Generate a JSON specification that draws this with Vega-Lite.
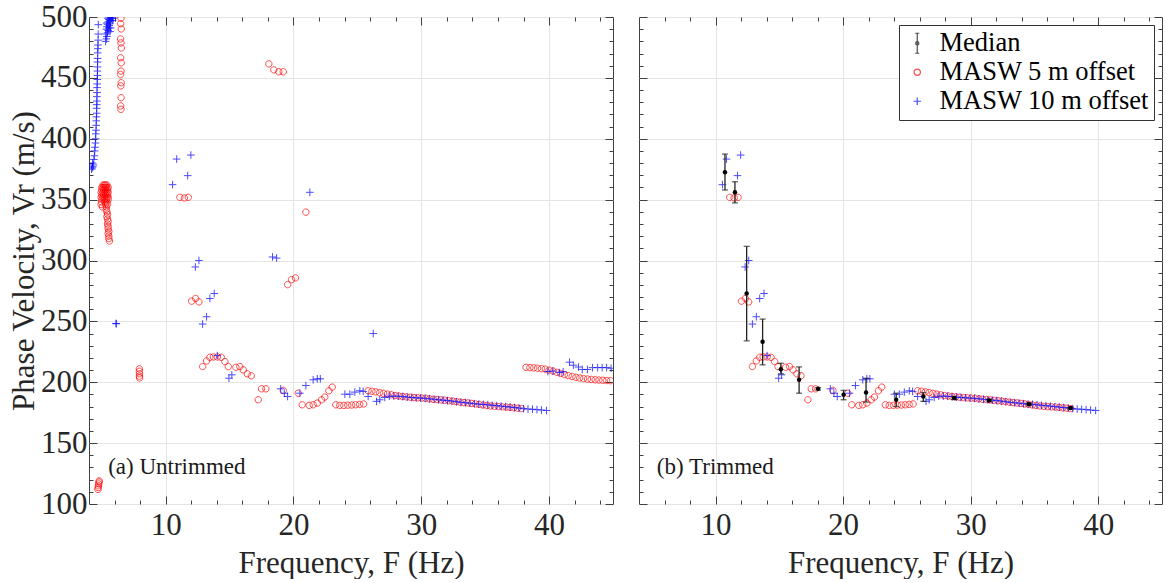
{
  "$schema": "https://vega.github.io/schema/vega-lite/v6.json",
  "background": "white",
  "padding": {"left": 8, "top": 0, "right": 1, "bottom": 0},
  "spacing": 26,
  "bounds": "flush",
  "config": {
    "font": "Liberation Serif, Times New Roman, serif",
    "view": {"stroke": "#404040", "strokeWidth": 1},
    "axis": {"domain": false, "tickColor": "#404040", "tickWidth": 1, "gridColor": "#e4e4e4", "gridWidth": 1, "labelFont": "Liberation Serif, Times New Roman, serif", "labelFontSize": 31, "labelColor": "#262626", "titleFont": "Liberation Serif, Times New Roman, serif", "titleFontSize": 31, "titleFontWeight": "normal", "titleColor": "#262626", "labelFlush": false}
  },
  "resolve": {"scale": {"stroke": "independent", "shape": "independent"}, "legend": {"stroke": "independent", "shape": "independent"}},
  "datasets": {
    "red": [
      {"f":4.70,"v":112,"k":0},{"f":4.72,"v":113.5,"k":0},{"f":4.74,"v":115,"k":0},{"f":4.76,"v":116.5,"k":0},{"f":4.78,"v":118,"k":0},{"f":4.80,"v":119,"k":0},
      {"f":5.1,"v":362,"k":0},{"f":5.2,"v":362,"k":0},{"f":5.3,"v":362,"k":0},{"f":5.4,"v":362,"k":0},
      {"f":5.0,"v":360,"k":0},{"f":5.1,"v":360,"k":0},{"f":5.2,"v":360,"k":0},{"f":5.3,"v":360,"k":0},{"f":5.4,"v":360,"k":0},{"f":5.5,"v":360,"k":0},
      {"f":5.0,"v":358,"k":0},{"f":5.15,"v":358,"k":0},{"f":5.3,"v":358,"k":0},{"f":5.45,"v":358,"k":0},
      {"f":4.95,"v":356,"k":0},{"f":5.1,"v":356,"k":0},{"f":5.25,"v":356,"k":0},{"f":5.4,"v":356,"k":0},{"f":5.5,"v":356,"k":0},
      {"f":5.0,"v":354,"k":0},{"f":5.15,"v":354,"k":0},{"f":5.3,"v":354,"k":0},{"f":5.45,"v":354,"k":0},
      {"f":4.95,"v":352,"k":0},{"f":5.1,"v":352,"k":0},{"f":5.25,"v":352,"k":0},{"f":5.4,"v":352,"k":0},{"f":5.5,"v":352,"k":0},
      {"f":5.0,"v":350,"k":0},{"f":5.2,"v":350,"k":0},{"f":5.35,"v":350,"k":0},{"f":5.5,"v":350,"k":0},
      {"f":4.98,"v":348,"k":0},{"f":5.25,"v":348,"k":0},{"f":5.4,"v":348,"k":0},
      {"f":4.95,"v":346,"k":0},{"f":5.3,"v":346,"k":0},{"f":5.45,"v":346,"k":0},
      {"f":5.05,"v":344,"k":0},{"f":5.35,"v":344,"k":0},
      {"f":5.35,"v":342,"k":0},{"f":5.4,"v":340,"k":0},{"f":5.45,"v":338,"k":0},{"f":5.4,"v":336,"k":0},{"f":5.45,"v":334,"k":0},{"f":5.5,"v":332,"k":0},{"f":5.45,"v":330,"k":0},{"f":5.5,"v":328,"k":0},{"f":5.5,"v":326,"k":0},{"f":5.55,"v":324,"k":0},{"f":5.5,"v":322,"k":0},{"f":5.55,"v":320,"k":0},{"f":5.55,"v":318,"k":0},{"f":5.6,"v":316,"k":0},
      {"f":6.50,"v":499,"k":0},{"f":6.48,"v":494.5,"k":0},{"f":6.52,"v":490.2,"k":0},{"f":6.47,"v":482,"k":0},{"f":6.50,"v":478.7,"k":0},{"f":6.53,"v":474.6,"k":0},{"f":6.48,"v":466.5,"k":0},{"f":6.52,"v":462.4,"k":0},{"f":6.50,"v":455.6,"k":0},{"f":6.47,"v":452.8,"k":0},{"f":6.52,"v":446,"k":0},{"f":6.49,"v":443.4,"k":0},{"f":6.51,"v":433.7,"k":0},{"f":6.48,"v":427,"k":0},{"f":6.50,"v":424.2,"k":0},
      {"f":7.94,"v":211,"k":0},{"f":7.94,"v":209,"k":0},{"f":7.95,"v":207,"k":0},{"f":7.94,"v":205,"k":0},{"f":7.96,"v":203.5,"k":0},
      {"f":11.11,"v":351.9,"k":1},{"f":11.46,"v":351.4,"k":1},{"f":11.77,"v":351.9,"k":1},
      {"f":12.03,"v":266.6,"k":1},{"f":12.34,"v":268.8,"k":1},{"f":12.6,"v":266,"k":1},
      {"f":12.89,"v":212.9,"k":1},{"f":13.2,"v":217.5,"k":1},{"f":13.46,"v":220.5,"k":1},{"f":13.73,"v":220.8,"k":1},{"f":14.04,"v":220.8,"k":1},{"f":14.35,"v":220.5,"k":1},{"f":14.63,"v":217,"k":1},{"f":14.9,"v":212.9,"k":1},{"f":15.49,"v":212.3,"k":1},{"f":15.8,"v":212.9,"k":1},{"f":16.07,"v":210.2,"k":1},{"f":16.38,"v":206.9,"k":1},{"f":16.7,"v":205.3,"k":1},
      {"f":17.24,"v":185.6,"k":1},{"f":17.5,"v":194.6,"k":1},{"f":17.84,"v":194.6,"k":1},
      {"f":18.07,"v":461.5,"k":0},{"f":18.46,"v":456.6,"k":0},{"f":18.85,"v":455,"k":0},{"f":19.2,"v":455,"k":0},
      {"f":19.54,"v":280.2,"k":0},{"f":19.85,"v":284.3,"k":0},{"f":20.16,"v":285.7,"k":0},{"f":20.97,"v":339.7,"k":0},
      {"f":19.2,"v":193.3,"k":1},{"f":20.37,"v":191,"k":1},{"f":20.68,"v":181.5,"k":1},{"f":21.23,"v":181,"k":1},{"f":21.54,"v":181.5,"k":1},{"f":21.86,"v":182.9,"k":1},{"f":22.2,"v":185.6,"k":1},{"f":22.45,"v":187.8,"k":1},{"f":22.77,"v":193,"k":1},{"f":23.03,"v":196,"k":1},
      {"f":23.31,"v":181.5,"k":1},{"f":23.62,"v":181,"k":1},{"f":23.94,"v":181,"k":1},{"f":24.25,"v":181.2,"k":1},{"f":24.56,"v":181.3,"k":1},{"f":24.87,"v":181.5,"k":1},{"f":25.18,"v":181.8,"k":1},{"f":25.49,"v":182.2,"k":1},
      {"f":25.84,"v":193.0,"k":1},{"f":26.14,"v":192.6,"k":1},{"f":26.44,"v":192.1,"k":1},{"f":26.74,"v":191.5,"k":1},{"f":27.04,"v":190.9,"k":1},{"f":27.34,"v":190.3,"k":1},{"f":27.64,"v":189.7,"k":1},{"f":27.94,"v":189.1,"k":1},{"f":28.24,"v":188.7,"k":1},{"f":28.54,"v":188.3,"k":1},{"f":28.84,"v":188.0,"k":1},{"f":29.14,"v":187.7,"k":1},{"f":29.44,"v":187.4,"k":1},{"f":29.74,"v":187.2,"k":1},{"f":30.04,"v":187.0,"k":1},{"f":30.34,"v":186.8,"k":1},{"f":30.64,"v":186.4,"k":1},{"f":30.94,"v":186.0,"k":1},{"f":31.24,"v":185.8,"k":1},{"f":31.54,"v":185.5,"k":1},{"f":31.84,"v":185.2,"k":1},{"f":32.14,"v":184.8,"k":1},{"f":32.44,"v":184.5,"k":1},{"f":32.74,"v":184.1,"k":1},{"f":33.04,"v":183.7,"k":1},{"f":33.34,"v":183.3,"k":1},{"f":33.64,"v":183.0,"k":1},{"f":33.94,"v":182.6,"k":1},{"f":34.24,"v":182.2,"k":1},{"f":34.54,"v":181.8,"k":1},{"f":34.84,"v":181.3,"k":1},{"f":35.14,"v":180.9,"k":1},{"f":35.44,"v":180.5,"k":1},{"f":35.74,"v":180.2,"k":1},{"f":36.04,"v":180.0,"k":1},{"f":36.34,"v":179.8,"k":1},{"f":36.64,"v":179.6,"k":1},{"f":36.94,"v":179.3,"k":1},{"f":37.24,"v":179.0,"k":1},{"f":37.54,"v":178.7,"k":1},{"f":37.84,"v":178.4,"k":1},
      {"f":38.2,"v":212.3,"k":0},{"f":38.5,"v":212.0,"k":0},{"f":38.8,"v":211.8,"k":0},{"f":39.1,"v":211.5,"k":0},{"f":39.4,"v":211.2,"k":0},{"f":39.7,"v":210.8,"k":0},{"f":40.0,"v":210.0,"k":0},{"f":40.3,"v":209.2,"k":0},{"f":40.6,"v":208.2,"k":0},{"f":40.9,"v":207.2,"k":0},{"f":41.2,"v":206.3,"k":0},{"f":41.5,"v":205.5,"k":0},{"f":41.8,"v":204.8,"k":0},{"f":42.1,"v":204.1,"k":0},{"f":42.4,"v":203.5,"k":0},{"f":42.7,"v":203.0,"k":0},{"f":43.0,"v":202.6,"k":0},{"f":43.3,"v":202.3,"k":0},{"f":43.6,"v":202.0,"k":0},{"f":43.9,"v":201.8,"k":0},{"f":44.2,"v":201.6,"k":0},{"f":44.5,"v":201.4,"k":0},{"f":44.8,"v":201.3,"k":0}
    ],
    "blue": [
      {"f":4.20,"v":375,"k":0},{"f":4.25,"v":376,"k":0},{"f":4.30,"v":377,"k":0},{"f":4.34,"v":378.5,"k":0},{"f":4.28,"v":380,"k":0},{"f":4.38,"v":383,"k":0},{"f":4.42,"v":386,"k":0},{"f":4.45,"v":390,"k":0},{"f":4.47,"v":393,"k":0},{"f":4.50,"v":396.5,"k":0},{"f":4.52,"v":400,"k":0},{"f":4.53,"v":404,"k":0},{"f":4.55,"v":407,"k":0},{"f":4.56,"v":411,"k":0},{"f":4.57,"v":414.7,"k":0},{"f":4.58,"v":418,"k":0},{"f":4.60,"v":421,"k":0},{"f":4.60,"v":425,"k":0},{"f":4.61,"v":428,"k":0},{"f":4.62,"v":431,"k":0},{"f":4.62,"v":434.6,"k":0},{"f":4.63,"v":438,"k":0},{"f":4.63,"v":442,"k":0},{"f":4.64,"v":445,"k":0},{"f":4.65,"v":448.7,"k":0},{"f":4.66,"v":452,"k":0},{"f":4.66,"v":455.6,"k":0},{"f":4.67,"v":459,"k":0},{"f":4.67,"v":463,"k":0},{"f":4.68,"v":466,"k":0},{"f":4.68,"v":470.5,"k":0},{"f":4.70,"v":474,"k":0},{"f":4.70,"v":477,"k":0},{"f":4.71,"v":481,"k":0},{"f":4.72,"v":486,"k":0},{"f":4.73,"v":493.7,"k":0},
      {"f":5.30,"v":480,"k":0},{"f":5.35,"v":482,"k":0},{"f":5.40,"v":484,"k":0},{"f":5.30,"v":486,"k":0},{"f":5.45,"v":487,"k":0},{"f":5.50,"v":489,"k":0},{"f":5.35,"v":490,"k":0},{"f":5.55,"v":491,"k":0},{"f":5.40,"v":492,"k":0},{"f":5.60,"v":493,"k":0},{"f":5.45,"v":494,"k":0},{"f":5.65,"v":495,"k":0},{"f":5.50,"v":496,"k":0},{"f":5.70,"v":497,"k":0},{"f":5.55,"v":498,"k":0},{"f":5.75,"v":499,"k":0},{"f":5.80,"v":500,"k":0},{"f":5.60,"v":500,"k":0},{"f":5.85,"v":497,"k":0},{"f":5.90,"v":499,"k":0},{"f":5.65,"v":488,"k":0},{"f":5.70,"v":491,"k":0},{"f":5.38,"v":495,"k":0},{"f":5.48,"v":499,"k":0},
      {"f":6.11,"v":248.3,"k":0},{"f":6.14,"v":248,"k":0},
      {"f":10.54,"v":362.3,"k":1},{"f":10.86,"v":383.3,"k":1},{"f":11.72,"v":369.7,"k":1},{"f":11.97,"v":386.6,"k":1},
      {"f":12.32,"v":294.7,"k":1},{"f":12.6,"v":300,"k":1},{"f":12.89,"v":247.8,"k":1},{"f":13.2,"v":253.8,"k":1},{"f":13.46,"v":268.8,"k":1},{"f":13.8,"v":272.9,"k":1},
      {"f":14.04,"v":221.9,"k":1},{"f":14.95,"v":203.3,"k":1},{"f":15.18,"v":206.1,"k":1},
      {"f":18.36,"v":302.9,"k":0},{"f":18.68,"v":302,"k":0},{"f":21.28,"v":356,"k":0},{"f":26.24,"v":240,"k":0},
      {"f":19.0,"v":194.6,"k":1},{"f":19.28,"v":191,"k":1},{"f":19.54,"v":188.3,"k":1},{"f":20.5,"v":191,"k":1},{"f":20.97,"v":197.3,"k":1},{"f":21.54,"v":202,"k":1},{"f":21.86,"v":202.8,"k":1},{"f":22.1,"v":202.8,"k":1},
      {"f":24.02,"v":190.2,"k":1},{"f":24.41,"v":190.2,"k":1},{"f":24.8,"v":191.9,"k":1},{"f":25.19,"v":193.0,"k":1},{"f":25.45,"v":192.5,"k":1},{"f":25.84,"v":188.3,"k":1},{"f":26.5,"v":184.3,"k":1},{"f":26.75,"v":185.6,"k":1},{"f":27.14,"v":187.5,"k":1},
      {"f":27.5,"v":188.5,"k":1},{"f":27.85,"v":188.6,"k":1},{"f":28.2,"v":188.5,"k":1},{"f":28.55,"v":188.2,"k":1},{"f":28.9,"v":187.8,"k":1},{"f":29.25,"v":187.5,"k":1},{"f":29.6,"v":187.2,"k":1},{"f":29.95,"v":187.0,"k":1},{"f":30.3,"v":186.8,"k":1},{"f":30.65,"v":186.4,"k":1},{"f":31.0,"v":186.0,"k":1},{"f":31.35,"v":185.6,"k":1},{"f":31.7,"v":185.3,"k":1},{"f":32.05,"v":184.9,"k":1},{"f":32.4,"v":184.5,"k":1},{"f":32.75,"v":184.0,"k":1},{"f":33.1,"v":183.5,"k":1},{"f":33.45,"v":183.2,"k":1},{"f":33.8,"v":182.8,"k":1},{"f":34.15,"v":182.4,"k":1},{"f":34.5,"v":182.0,"k":1},{"f":34.85,"v":181.8,"k":1},{"f":35.2,"v":181.5,"k":1},{"f":35.55,"v":181.1,"k":1},{"f":35.9,"v":180.8,"k":1},{"f":36.25,"v":180.4,"k":1},{"f":36.6,"v":180.0,"k":1},{"f":36.95,"v":179.6,"k":1},{"f":37.3,"v":179.2,"k":1},{"f":37.65,"v":178.8,"k":1},{"f":38.0,"v":178.3,"k":1},{"f":38.35,"v":178.0,"k":1},{"f":38.7,"v":177.8,"k":1},{"f":39.05,"v":177.5,"k":1},{"f":39.4,"v":177.2,"k":1},{"f":39.8,"v":176.8,"k":1},
      {"f":39.9,"v":208.8,"k":0},{"f":40.3,"v":209.2,"k":0},{"f":40.8,"v":208,"k":0},{"f":41.1,"v":208.6,"k":0},{"f":41.6,"v":216.5,"k":0},{"f":41.9,"v":214,"k":0},{"f":42.3,"v":212.5,"k":0},{"f":42.6,"v":210.5,"k":0},{"f":43.0,"v":210.5,"k":0},{"f":43.4,"v":212,"k":0},{"f":43.8,"v":212,"k":0},{"f":44.15,"v":212,"k":0},{"f":44.5,"v":212,"k":0},{"f":44.85,"v":211.5,"k":0}
    ],
    "med": [
      {"f":10.74,"v":372.4,"lo":357.9,"hi":387.4},{"f":11.52,"v":356,"lo":347.3,"hi":364.7},{"f":12.44,"v":272.9,"lo":234,"hi":311.6},{"f":13.69,"v":233.3,"lo":214.3,"hi":251.9},{"f":15.12,"v":210.7,"lo":206.9,"hi":215.6},{"f":16.55,"v":202,"lo":191,"hi":212.6},{"f":18.04,"v":194.6,"lo":193.6,"hi":195.6},{"f":20.04,"v":189.7,"lo":185.6,"hi":193.3},{"f":21.8,"v":191.6,"lo":183.7,"hi":203.3},{"f":24.16,"v":185.6,"lo":180,"hi":191},{"f":26.29,"v":188.3,"lo":184.3,"hi":191.5},{"f":28.71,"v":187,"lo":185.8,"hi":188.2},{"f":31.45,"v":185.1,"lo":184.2,"hi":186},{"f":34.57,"v":182,"lo":181.2,"hi":182.8},{"f":37.83,"v":178.8,"lo":178.2,"hi":179.4}
    ]
  },
  "hconcat": [
    {
      "width": 524, "height": 487,
      "resolve": {"axis": {"x": "independent", "y": "independent"}},
      "layer": [
        {"data": {"name": "red"}, "mark": {"type": "point", "opacity": 0},
         "encoding": {
           "x": {"field": "f", "type": "quantitative", "scale": {"domain": [4, 45], "nice": false, "zero": false}, "axis": {"orient": "bottom", "values": [10, 20, 30, 40], "tickSize": -8, "grid": true, "labelPadding": 14, "title": "Frequency, F (Hz)", "titlePadding": 8}},
           "y": {"field": "v", "type": "quantitative", "scale": {"domain": [100, 500], "nice": false, "zero": false}, "axis": {"orient": "left", "values": [100, 150, 200, 250, 300, 350, 400, 450, 500], "tickSize": -8, "grid": true, "labelPadding": 10, "title": "Phase Velocity, Vr (m/s)", "titlePadding": 0}}
         }},
        {"data": {"name": "red"}, "mark": {"type": "point", "opacity": 0},
         "encoding": {
           "x": {"field": "f", "type": "quantitative", "scale": {"domain": [4, 45], "nice": false, "zero": false}, "axis": {"orient": "top", "values": [10, 20, 30, 40], "tickSize": -8, "grid": false, "labels": false, "title": null}},
           "y": {"field": "v", "type": "quantitative", "scale": {"domain": [100, 500], "nice": false, "zero": false}, "axis": {"orient": "right", "values": [100, 150, 200, 250, 300, 350, 400, 450, 500], "tickSize": -8, "grid": false, "labels": false, "title": null}}
         }},
        {"data": {"name": "red"}, "mark": {"type": "point", "opacity": 0},
         "encoding": {
           "x": {"field": "f", "type": "quantitative", "scale": {"domain": [4, 45], "nice": false, "zero": false}, "axis": {"orient": "bottom", "values": [6, 8, 12, 14, 16, 18, 22, 24, 26, 28, 32, 34, 36, 38, 42, 44], "tickSize": -4, "grid": false, "labels": false, "title": null}},
           "y": {"field": "v", "type": "quantitative", "scale": {"domain": [100, 500], "nice": false, "zero": false}, "axis": {"orient": "left", "values": [110,120,130,140,160,170,180,190,210,220,230,240,260,270,280,290,310,320,330,340,360,370,380,390,410,420,430,440,460,470,480,490], "tickSize": -4, "grid": false, "labels": false, "title": null}}
         }},
        {"data": {"name": "red"}, "mark": {"type": "point", "opacity": 0},
         "encoding": {
           "x": {"field": "f", "type": "quantitative", "scale": {"domain": [4, 45], "nice": false, "zero": false}, "axis": {"orient": "top", "values": [6, 8, 12, 14, 16, 18, 22, 24, 26, 28, 32, 34, 36, 38, 42, 44], "tickSize": -4, "grid": false, "labels": false, "title": null}},
           "y": {"field": "v", "type": "quantitative", "scale": {"domain": [100, 500], "nice": false, "zero": false}, "axis": {"orient": "right", "values": [110,120,130,140,160,170,180,190,210,220,230,240,260,270,280,290,310,320,330,340,360,370,380,390,410,420,430,440,460,470,480,490], "tickSize": -4, "grid": false, "labels": false, "title": null}}
         }},
        {"data": {"name": "red"}, "mark": {"type": "point", "filled": false, "size": 400, "strokeWidth": 1, "clip": true},
         "encoding": {
           "x": {"field": "f", "type": "quantitative", "scale": {"domain": [4, 45], "nice": false, "zero": false}, "axis": null},
           "y": {"field": "v", "type": "quantitative", "scale": {"domain": [100, 500], "nice": false, "zero": false}, "axis": null},
           "stroke": {"datum": "MASW 5 m offset", "scale": {"domain": ["Median", "MASW 5 m offset", "MASW 10 m offset"], "range": ["#000000", "#ff0000", "#0000ff"]}, "legend": null},
           "shape": {"datum": "MASW 5 m offset", "scale": {"domain": ["Median", "MASW 5 m offset", "MASW 10 m offset"], "range": ["M0,-1L0,1M-0.2,-1L0.2,-1M-0.2,1L0.2,1M-0.16,0A0.16,0.16,0,1,1,0.16,0A0.16,0.16,0,1,1,-0.16,0Z", "M-0.32,0A0.32,0.32,0,1,1,0.32,0A0.32,0.32,0,1,1,-0.32,0Z", "M-0.38,0L0.38,0M0,-0.38L0,0.38"]}, "legend": null}
         }},
        {"data": {"name": "blue"}, "mark": {"type": "point", "filled": false, "size": 400, "strokeWidth": 1, "clip": true},
         "encoding": {
           "x": {"field": "f", "type": "quantitative", "scale": {"domain": [4, 45], "nice": false, "zero": false}, "axis": null},
           "y": {"field": "v", "type": "quantitative", "scale": {"domain": [100, 500], "nice": false, "zero": false}, "axis": null},
           "stroke": {"datum": "MASW 10 m offset", "scale": {"domain": ["Median", "MASW 5 m offset", "MASW 10 m offset"], "range": ["#000000", "#ff0000", "#0000ff"]}, "legend": null},
           "shape": {"datum": "MASW 10 m offset", "scale": {"domain": ["Median", "MASW 5 m offset", "MASW 10 m offset"], "range": ["M0,-1L0,1M-0.2,-1L0.2,-1M-0.2,1L0.2,1M-0.16,0A0.16,0.16,0,1,1,0.16,0A0.16,0.16,0,1,1,-0.16,0Z", "M-0.32,0A0.32,0.32,0,1,1,0.32,0A0.32,0.32,0,1,1,-0.32,0Z", "M-0.38,0L0.38,0M0,-0.38L0,0.38"]}, "legend": null}
         }},
        {"data": {"values": [{"f": 5.5, "v": 130, "t": "(a) Untrimmed"}]},
         "mark": {"type": "text", "align": "left", "baseline": "middle", "fontSize": 23, "font": "Liberation Serif, Times New Roman, serif", "color": "#1a1a1a"},
         "encoding": {
           "x": {"field": "f", "type": "quantitative", "scale": {"domain": [4, 45], "nice": false, "zero": false}, "axis": null},
           "y": {"field": "v", "type": "quantitative", "scale": {"domain": [100, 500], "nice": false, "zero": false}, "axis": null},
           "text": {"field": "t"}
         }}
      ]
    },
    {
      "width": 523, "height": 487,
      "resolve": {"axis": {"x": "independent", "y": "independent"}},
      "layer": [
        {"data": {"name": "red"}, "mark": {"type": "point", "opacity": 0},
         "encoding": {
           "x": {"field": "f", "type": "quantitative", "scale": {"domain": [4, 45], "nice": false, "zero": false}, "axis": {"orient": "bottom", "values": [10, 20, 30, 40], "tickSize": -8, "grid": true, "labelPadding": 14, "title": "Frequency, F (Hz)", "titlePadding": 8}},
           "y": {"field": "v", "type": "quantitative", "scale": {"domain": [100, 500], "nice": false, "zero": false}, "axis": {"orient": "left", "values": [100, 150, 200, 250, 300, 350, 400, 450, 500], "tickSize": -8, "grid": true, "labels": false, "title": null}}
         }},
        {"data": {"name": "red"}, "mark": {"type": "point", "opacity": 0},
         "encoding": {
           "x": {"field": "f", "type": "quantitative", "scale": {"domain": [4, 45], "nice": false, "zero": false}, "axis": {"orient": "top", "values": [10, 20, 30, 40], "tickSize": -8, "grid": false, "labels": false, "title": null}},
           "y": {"field": "v", "type": "quantitative", "scale": {"domain": [100, 500], "nice": false, "zero": false}, "axis": {"orient": "right", "values": [100, 150, 200, 250, 300, 350, 400, 450, 500], "tickSize": -8, "grid": false, "labels": false, "title": null}}
         }},
        {"data": {"name": "red"}, "mark": {"type": "point", "opacity": 0},
         "encoding": {
           "x": {"field": "f", "type": "quantitative", "scale": {"domain": [4, 45], "nice": false, "zero": false}, "axis": {"orient": "bottom", "values": [6, 8, 12, 14, 16, 18, 22, 24, 26, 28, 32, 34, 36, 38, 42, 44], "tickSize": -4, "grid": false, "labels": false, "title": null}},
           "y": {"field": "v", "type": "quantitative", "scale": {"domain": [100, 500], "nice": false, "zero": false}, "axis": {"orient": "left", "values": [110,120,130,140,160,170,180,190,210,220,230,240,260,270,280,290,310,320,330,340,360,370,380,390,410,420,430,440,460,470,480,490], "tickSize": -4, "grid": false, "labels": false, "title": null}}
         }},
        {"data": {"name": "red"}, "mark": {"type": "point", "opacity": 0},
         "encoding": {
           "x": {"field": "f", "type": "quantitative", "scale": {"domain": [4, 45], "nice": false, "zero": false}, "axis": {"orient": "top", "values": [6, 8, 12, 14, 16, 18, 22, 24, 26, 28, 32, 34, 36, 38, 42, 44], "tickSize": -4, "grid": false, "labels": false, "title": null}},
           "y": {"field": "v", "type": "quantitative", "scale": {"domain": [100, 500], "nice": false, "zero": false}, "axis": {"orient": "right", "values": [110,120,130,140,160,170,180,190,210,220,230,240,260,270,280,290,310,320,330,340,360,370,380,390,410,420,430,440,460,470,480,490], "tickSize": -4, "grid": false, "labels": false, "title": null}}
         }},
        {"data": {"name": "red"}, "transform": [{"filter": "datum.k == 1"}], "mark": {"type": "point", "filled": false, "size": 400, "strokeWidth": 1, "clip": true},
         "encoding": {
           "x": {"field": "f", "type": "quantitative", "scale": {"domain": [4, 45], "nice": false, "zero": false}, "axis": null},
           "y": {"field": "v", "type": "quantitative", "scale": {"domain": [100, 500], "nice": false, "zero": false}, "axis": null},
           "stroke": {"datum": "MASW 5 m offset", "scale": {"domain": ["Median", "MASW 5 m offset", "MASW 10 m offset"], "range": ["#000000", "#ff0000", "#0000ff"]},
             "legend": {"title": null, "orient": "top-right", "offset": 8, "padding": 5, "strokeColor": "#333333", "fillColor": "white", "labelFont": "Liberation Serif, Times New Roman, serif", "labelFontSize": 26.5, "labelColor": "#000000", "labelOffset": 9, "labelLimit": 400, "rowPadding": 2, "symbolSize": 400, "symbolStrokeWidth": 1.2, "encode": {"symbols": {"update": {"fill": {"signal": "datum.value === 'Median' ? 'black' : 'transparent'"}}}}}},
           "shape": {"datum": "MASW 5 m offset", "scale": {"domain": ["Median", "MASW 5 m offset", "MASW 10 m offset"], "range": ["M0,-1L0,1M-0.2,-1L0.2,-1M-0.2,1L0.2,1M-0.16,0A0.16,0.16,0,1,1,0.16,0A0.16,0.16,0,1,1,-0.16,0Z", "M-0.32,0A0.32,0.32,0,1,1,0.32,0A0.32,0.32,0,1,1,-0.32,0Z", "M-0.38,0L0.38,0M0,-0.38L0,0.38"]},
             "legend": {"title": null, "orient": "top-right", "offset": 8, "padding": 5, "strokeColor": "#333333", "fillColor": "white", "labelFont": "Liberation Serif, Times New Roman, serif", "labelFontSize": 26.5, "labelColor": "#000000", "labelOffset": 9, "labelLimit": 400, "rowPadding": 2, "symbolSize": 400, "symbolStrokeWidth": 1.2, "encode": {"symbols": {"update": {"fill": {"signal": "datum.value === 'Median' ? 'black' : 'transparent'"}}}}}}
         }},
        {"data": {"name": "blue"}, "transform": [{"filter": "datum.k == 1"}], "mark": {"type": "point", "filled": false, "size": 400, "strokeWidth": 1, "clip": true},
         "encoding": {
           "x": {"field": "f", "type": "quantitative", "scale": {"domain": [4, 45], "nice": false, "zero": false}, "axis": null},
           "y": {"field": "v", "type": "quantitative", "scale": {"domain": [100, 500], "nice": false, "zero": false}, "axis": null},
           "stroke": {"datum": "MASW 10 m offset", "scale": {"domain": ["Median", "MASW 5 m offset", "MASW 10 m offset"], "range": ["#000000", "#ff0000", "#0000ff"]}},
           "shape": {"datum": "MASW 10 m offset", "scale": {"domain": ["Median", "MASW 5 m offset", "MASW 10 m offset"], "range": ["M0,-1L0,1M-0.2,-1L0.2,-1M-0.2,1L0.2,1M-0.16,0A0.16,0.16,0,1,1,0.16,0A0.16,0.16,0,1,1,-0.16,0Z", "M-0.32,0A0.32,0.32,0,1,1,0.32,0A0.32,0.32,0,1,1,-0.32,0Z", "M-0.38,0L0.38,0M0,-0.38L0,0.38"]}}
         }},
        {"data": {"name": "med"}, "mark": {"type": "rule", "color": "#222222", "strokeWidth": 1.3},
         "encoding": {
           "x": {"field": "f", "type": "quantitative", "scale": {"domain": [4, 45], "nice": false, "zero": false}, "axis": null},
           "y": {"field": "lo", "type": "quantitative", "scale": {"domain": [100, 500], "nice": false, "zero": false}, "axis": null},
           "y2": {"field": "hi"}
         }},
        {"data": {"name": "med"}, "mark": {"type": "tick", "orient": "horizontal", "color": "#222222", "size": 6, "thickness": 1.3},
         "encoding": {
           "x": {"field": "f", "type": "quantitative", "scale": {"domain": [4, 45], "nice": false, "zero": false}, "axis": null},
           "y": {"field": "lo", "type": "quantitative", "scale": {"domain": [100, 500], "nice": false, "zero": false}, "axis": null}
         }},
        {"data": {"name": "med"}, "mark": {"type": "tick", "orient": "horizontal", "color": "#222222", "size": 6, "thickness": 1.3},
         "encoding": {
           "x": {"field": "f", "type": "quantitative", "scale": {"domain": [4, 45], "nice": false, "zero": false}, "axis": null},
           "y": {"field": "hi", "type": "quantitative", "scale": {"domain": [100, 500], "nice": false, "zero": false}, "axis": null}
         }},
        {"data": {"name": "med"}, "mark": {"type": "point", "shape": "circle", "filled": true, "color": "#000000", "size": 20, "opacity": 1},
         "encoding": {
           "x": {"field": "f", "type": "quantitative", "scale": {"domain": [4, 45], "nice": false, "zero": false}, "axis": null},
           "y": {"field": "v", "type": "quantitative", "scale": {"domain": [100, 500], "nice": false, "zero": false}, "axis": null}
         }},
        {"data": {"values": [{"f": 5.4, "v": 130, "t": "(b) Trimmed"}]},
         "mark": {"type": "text", "align": "left", "baseline": "middle", "fontSize": 23, "font": "Liberation Serif, Times New Roman, serif", "color": "#1a1a1a"},
         "encoding": {
           "x": {"field": "f", "type": "quantitative", "scale": {"domain": [4, 45], "nice": false, "zero": false}, "axis": null},
           "y": {"field": "v", "type": "quantitative", "scale": {"domain": [100, 500], "nice": false, "zero": false}, "axis": null},
           "text": {"field": "t"}
         }}
      ]
    }
  ]
}
